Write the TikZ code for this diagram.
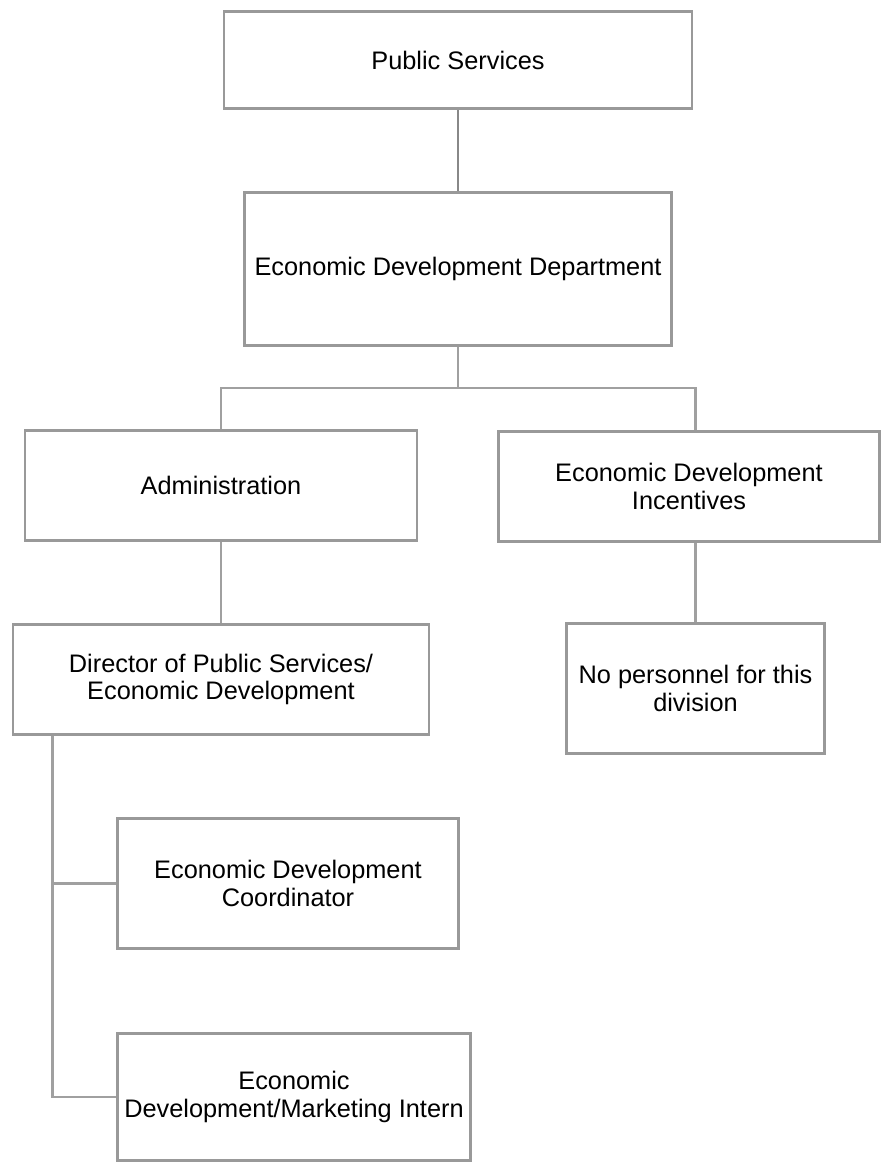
\documentclass[tikz,border=0pt]{standalone}
\usepackage{fontspec}
\setmainfont{Liberation Sans}
\usetikzlibrary{positioning}

\definecolor{boxgray}{RGB}{153,153,153}
\definecolor{linkgray}{RGB}{160,160,160}
\definecolor{topgray}{RGB}{136,136,136}

\begin{document}
\begin{tikzpicture}[x=0.75pt, y=-0.75pt]

    % Define styles
    \tikzstyle{unit} = [draw=boxgray, line width=2.2pt, fill=white, align=center, inner sep=2pt, font=\fontsize{19}{20.5}\selectfont]
    \tikzstyle{toplink} = [draw=topgray, line width=2pt]
    \tikzstyle{link} = [draw=linkgray, line width=1.6pt]

    \useasboundingbox (0,0) rectangle (883,1163);

    % Define key points
    \coordinate (psc) at (458, 60);
    \coordinate (eddc) at (458, 269);
    \coordinate (admc) at (221, 485.5);
    \coordinate (incc) at (689, 486.5);
    \coordinate (dirc) at (221, 679.5);
    \coordinate (nopc) at (695.5, 688.5);
    \coordinate (cooc) at (288, 883.5);
    \coordinate (intc) at (294, 1097);

    % Draw boxes
    \node[unit, minimum width=351pt, minimum height=73pt] (ps) at (psc) {Public Services};
    \node[unit, minimum width=320.5pt, minimum height=115pt] (edd) at (eddc) {Economic Development Department};
    \node[unit, minimum width=294pt, minimum height=83pt] (adm) at (admc) {Administration};
    \node[unit, minimum width=286pt, minimum height=83pt] (inc) at (incc) {Economic Development\\Incentives};
    \node[unit, minimum width=312pt, minimum height=83pt] (dir) at (dirc) {Director of Public Services/\\Economic Development};
    \node[unit, minimum width=194pt, minimum height=97.5pt] (nop) at (nopc) {No personnel for this\\division};
    \node[unit, minimum width=256pt, minimum height=98pt] (coo) at (cooc) {Economic Development\\Coordinator};
    \node[unit, minimum width=265pt, minimum height=95.5pt] (int) at (intc) {Economic\\Development/Marketing Intern};

    % Top level
    \draw[toplink] (ps.south) -- (edd.north);

    % Divisions
    \draw[link] (edd.south) -- ++(0,41) coordinate (split);
    \draw[link] (split) -| (adm.north);
    \draw[link] (split) -| (inc.north -| nop.north);

    % Staff under divisions
    \draw[link] (adm.south) -- (dir.north);
    \draw[link] (inc.south -| nop.north) -- (nop.north);

    % Staff under director
    \draw[link] (dir.south west) ++(41,0) coordinate (trunk) |- (int.west);
    \draw[link] (trunk |- coo.west) -- (coo.west);

\end{tikzpicture}
\end{document}
